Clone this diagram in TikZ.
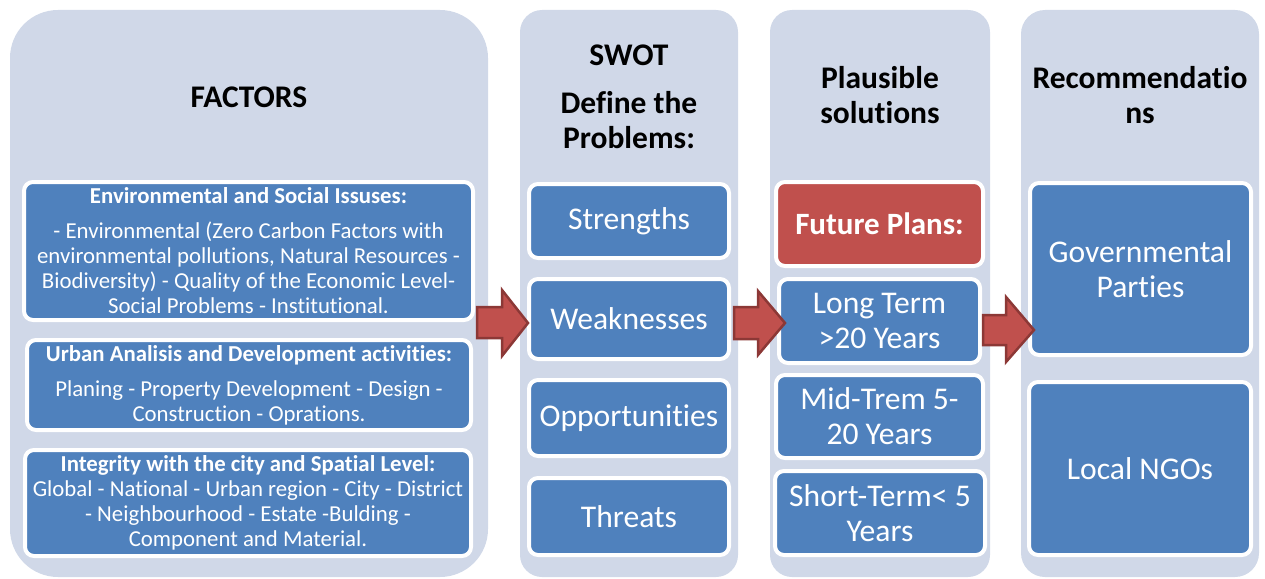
\documentclass[tikz,border=0pt]{standalone}
\usepackage{fontspec}
\setmainfont[Ligatures=NoCommon]{Carlito}
\definecolor{colbg}{HTML}{D0D8E8}
\definecolor{itemblue}{HTML}{4F81BD}
\definecolor{itemred}{HTML}{C0504D}
\definecolor{arrdark}{HTML}{8C3836}
\begin{document}
\begin{tikzpicture}[x=1pt,y=-1pt,
  colbox/.style={fill=colbg, draw=none, rectangle, inner sep=0pt},
  item/.style={draw=white, line width=4pt, fill=itemblue, rounded corners=9pt,
    text=white, align=center, inner sep=0pt,
    font=\fontsize{31.6}{35}\selectfont},
  smallitem/.style={item, font=\fontsize{22.8}{25}\selectfont},
  reditem/.style={item, fill=itemred, font=\fontsize{31}{35}\selectfont\bfseries},
  header/.style={align=center, text=black, inner sep=0pt,
    font=\fontsize{31.5}{35}\selectfont\bfseries},
  barrow/.style={fill=itemred, draw=arrdark, line width=2.5pt, line join=miter}]
\useasboundingbox (0,0) rectangle (1265,578);

% columns
\node[colbox, minimum width=478pt, minimum height=567pt, rounded corners=48pt] (col1) at (249,293.5) {};
\node[colbox, minimum width=218pt, minimum height=567pt, rounded corners=22pt] (col2) at (629,293.5) {};
\node[colbox, minimum width=220pt, minimum height=567pt, rounded corners=22pt] (col3) at (880,293.5) {};
\node[colbox, minimum width=238pt, minimum height=567pt, rounded corners=24pt] (col4) at (1140,293.5) {};

% headers
\node[header] (h1) at (249,97) {FACTORS};
\node[header] (h2) at (629,96.5) {SWOT\\[13pt]Define the\\Problems:};
\node[header] (h3) at (880,95) {Plausible\\solutions};
\node[header] (h4) at (1140,95) {Recommendatio\\ns};

% factors
\node[smallitem, minimum width=449pt, minimum height=138pt] (f1) at (248.5,251)
  {{\bfseries Environmental and Social Issuses:}\\[10pt]- Environmental (Zero Carbon Factors with\\environmental pollutions, Natural Resources -\\Biodiversity) - Quality of the Economic Level-\\Social Problems - Institutional.};
\node[smallitem, minimum width=444pt, minimum height=90pt] (f2) at (249,385)
  {{\bfseries Urban Analisis and Development activities:}\\[10pt]Planing - Property Development - Design -\\Construction - Oprations.};
\node[smallitem, minimum width=446pt, minimum height=106pt] (f3) at (248,503)
  {{\bfseries Integrity with the city and Spatial Level:}\\Global - National - Urban region - City - District\\- Neighbourhood - Estate -Bulding -\\Component and Material.};

% SWOT
\node[item, minimum width=200pt, minimum height=74pt] (s) at (629,221) {Strengths};
\node[item, minimum width=200pt, minimum height=80pt] (w) at (629,319) {Weaknesses};
\node[item, minimum width=200pt, minimum height=76pt] (o) at (629,418) {Opportunities};
\node[item, minimum width=200pt, minimum height=77pt] (t) at (629,516.5) {Threats};

% solutions
\node[reditem, minimum width=207pt, minimum height=84pt] (fp) at (879.5,224) {Future Plans:};
\node[item, minimum width=201pt, minimum height=84pt] (lt) at (879.5,321) {Long Term\\>20 Years};
\node[item, minimum width=207pt, minimum height=83pt] (mt) at (879.5,416.5) {Mid-Trem 5-\\20 Years};
\node[item, minimum width=210pt, minimum height=84pt] (st) at (880,513) {Short-Term< 5\\Years};

% recommendations
\node[item, minimum width=221pt, minimum height=172pt] (gov) at (1140.5,269) {Governmental\\Parties};
\node[item, minimum width=222pt, minimum height=173pt] (ngo) at (1140,468.5) {Local NGOs};

% block arrows
\draw[barrow] (477,307) -- (502,307) -- (502,290) -- (528,323) -- (502,356) -- (502,338) -- (477,338) -- cycle;
\draw[barrow] (734,307) -- (758,307) -- (758,291) -- (785,323) -- (758,355) -- (758,339) -- (734,339) -- cycle;
\draw[barrow] (983,315) -- (1006,315) -- (1006,297) -- (1034,330) -- (1006,362) -- (1006,345) -- (983,345) -- cycle;
\end{tikzpicture}
\end{document}
